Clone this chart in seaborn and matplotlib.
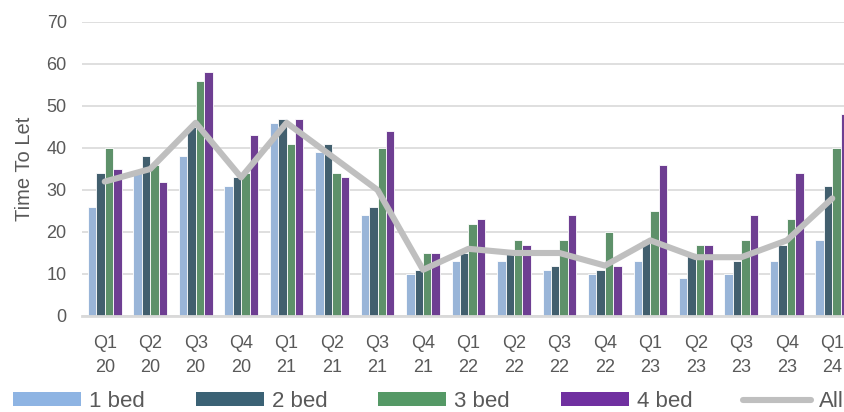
import numpy as np
import pandas as pd
import matplotlib
matplotlib.use("Agg")
import matplotlib.pyplot as plt
import seaborn as sns
from matplotlib.patches import Patch
from matplotlib.lines import Line2D

quarters = ["Q1\n20", "Q2\n20", "Q3\n20", "Q4\n20", "Q1\n21", "Q2\n21", "Q3\n21", "Q4\n21",
            "Q1\n22", "Q2\n22", "Q3\n22", "Q4\n22", "Q1\n23", "Q2\n23", "Q3\n23", "Q4\n23", "Q1\n24"]
bed1 = [26, 34, 38, 31, 46, 39, 24, 10, 13, 13, 11, 10, 13, 9, 10, 13, 18]
bed2 = [34, 38, 45, 33, 47, 41, 26, 11, 15, 15, 12, 11, 18, 15, 13, 17, 31]
bed3 = [40, 36, 56, 34, 41, 34, 40, 15, 22, 18, 18, 20, 25, 17, 18, 23, 40]
bed4 = [35, 32, 58, 43, 47, 33, 44, 15, 23, 17, 24, 12, 36, 17, 24, 34, 48]
all_beds = [32, 35, 46, 33, 46, 38, 30, 11, 16, 15, 15, 12, 18, 14, 14, 18, 28]
series_names = ["1 bed", "2 bed", "3 bed", "4 bed"]
colors = ["#8EB4E3", "#3B6275", "#559966", "#7030A0"]

sns.set_theme(style="white")
plt.rcParams['font.family'] = ['Liberation Sans', 'DejaVu Sans']

rows = []
for name, vals in zip(series_names, [bed1, bed2, bed3, bed4]):
    for q, v in zip(quarters, vals):
        rows.append({"Quarter": q, "Series": name, "Value": v})
df = pd.DataFrame(rows)

fig = plt.figure(figsize=(8.44, 4.12), dpi=100)
ax = fig.add_axes([82/844, 96/412, 773/844, 294/412])

sns.barplot(data=df, x="Quarter", y="Value", hue="Series", order=quarters,
            hue_order=series_names, palette=colors, width=0.74, gap=0,
            edgecolor="white", linewidth=0.6, ax=ax, legend=False, zorder=2)
sns.lineplot(x=np.arange(len(quarters)), y=all_beds, color="#BFBFBF", linewidth=4.4,
             ax=ax, zorder=3, legend=False)

ax.set_xlim(-0.5, len(quarters) - 0.5)
ax.set_ylim(0, 70)
ax.set_yticks(range(0, 71, 10))
ax.yaxis.grid(True, color="#D9D9D9", linewidth=1.2, zorder=0)
ax.set_axisbelow(True)
for s in ["top", "right", "left"]:
    ax.spines[s].set_visible(False)
ax.spines["bottom"].set_color("#D9D9D9")
ax.spines["bottom"].set_linewidth(2)
ax.spines["bottom"].set_zorder(4)
ax.tick_params(axis="both", length=0, labelsize=13, labelcolor="#595959")
ax.tick_params(axis="y", pad=11)
ax.tick_params(axis="x", pad=14)
for lbl in ax.get_xticklabels():
    lbl.set_linespacing(1.5)
ax.set_xlabel("")
ax.set_ylabel("Time To Let", fontsize=14.5, color="#595959", labelpad=9)

handles = [Patch(facecolor=c, edgecolor="none") for c in colors]
handles.append(Line2D([0], [0], color="#BFBFBF", linewidth=4.4))
fig.legend(handles, series_names + ["All"], loc="center left", bbox_to_anchor=(-0.008, 0.026),
           ncol=5, frameon=False, fontsize=16, handlelength=3.05, handleheight=0.55,
           columnspacing=2.3, handletextpad=0.36, labelcolor="#595959")

fig.savefig("out.png", dpi=100)
